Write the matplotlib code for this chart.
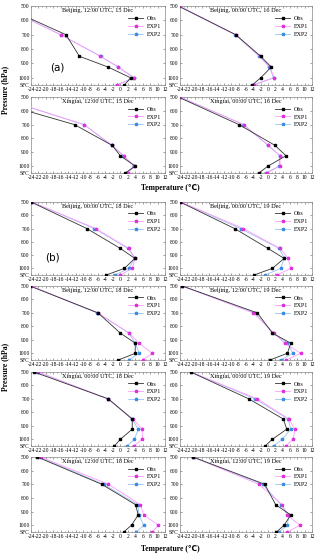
import numpy as np
import matplotlib.pyplot as plt

# pressure levels (1050 is where the surface value is drawn)
levels = [500, 700, 850, 925, 1000, 1050]
ytick_vals = [500, 600, 700, 800, 900, 1000, 1050]
ytick_labels = ['500', '600', '700', '800', '900', '1000', 'SFC']
xticks = np.arange(-24, 13, 2)

titles_a = ['Beijing, 12:00 UTC, 15 Dec', 'Beijing, 00:00 UTC, 16 Dec',
            'Xingtai, 12:00 UTC, 15 Dec', 'Xingtai, 00:00 UTC, 16 Dec']
obs_a = [[-31.7, -14.6, -11.0, -3.3, 2.8, 1.1],
         [-24.5, -8.8, -2.0, 0.9, -2.0, -4.3],
         [-38.0, -12.3, -2.2, 0.0, 4.0, 1.3],
         [-24.5, -7.9, 1.9, 4.9, 0.0, -2.5]]
exp1_a = [[-32.0, -16.0, -5.4, -0.5, 3.8, -0.9],
          [-24.2, -8.8, -2.3, 0.5, 1.7, -3.9],
          [-33.0, -9.7, -2.2, 0.9, 3.8, 2.0],
          [-24.0, -6.6, 0.1, 3.3, 3.3, -0.4]]
exp2_a = [[-32.0, -16.0, -5.3, -0.6, 3.6, -1.0],
          [-24.2, -8.9, -2.4, 0.4, 1.5, -4.2],
          [-33.0, -9.8, -2.3, 0.8, 3.7, 1.8],
          [-24.0, -6.7, 0.0, 3.2, 3.1, -0.6]]

titles_b = ['Beijing, 00:00 UTC, 18 Dec', 'Beijing, 00:00 UTC, 19 Dec',
            'Beijing, 12:00 UTC, 18 Dec', 'Beijing, 12:00 UTC, 19 Dec',
            'Xingtai, 00:00 UTC, 18 Dec', 'Xingtai, 00:00 UTC, 19 Dec',
            'Xingtai, 12:00 UTC, 18 Dec', 'Xingtai, 12:00 UTC, 19 Dec']
obs_b = [[-24.0, -9.0, 0.0, 3.9, 1.1, -3.8],
         [-24.0, -9.1, 0.0, 4.4, 1.2, -3.8],
         [-24.3, -6.0, 0.0, 4.0, 4.0, -0.5],
         [-23.4, -2.9, 1.2, 6.2, 5.3, 0.5],
         [-23.2, -3.2, 3.2, 3.2, 0.0, -1.6],
         [-21.1, -5.2, 4.2, 5.1, 1.2, -0.8],
         [-22.3, -5.0, 4.1, 4.8, 3.0, 0.9],
         [-20.5, -0.9, 2.1, 6.2, 4.4, 2.3]]
exp1_b = [[-23.8, -6.6, 2.3, 4.0, 3.2, 0.0],
          [-23.8, -6.7, 3.3, 5.5, 6.2, 2.4],
          [-24.0, -6.0, 2.4, 5.0, 8.6, 6.0],
          [-23.4, -4.0, 1.6, 4.5, 8.9, 5.0],
          [-22.0, -3.4, 3.4, 5.9, 5.9, 3.6],
          [-21.0, -2.9, 5.7, 7.3, 6.9, 4.8],
          [-21.4, -3.2, 5.4, 6.3, 10.2, 8.6],
          [-20.5, -2.5, 3.9, 5.1, 8.7, 5.3]]
exp2_b = [[-23.8, -7.0, 2.1, 3.9, 2.3, -1.4],
          [-23.8, -7.5, 3.1, 4.4, 3.5, -0.8],
          [-24.0, -6.2, 2.3, 4.0, 5.1, 2.3],
          [-23.4, -3.6, 1.4, 5.3, 6.8, 3.5],
          [-22.3, -3.3, 3.2, 4.8, 3.8, 1.8],
          [-21.0, -3.5, 5.5, 6.2, 3.9, 1.6],
          [-21.8, -4.5, 4.7, 5.0, 6.3, 4.3],
          [-20.5, -1.5, 3.6, 5.7, 5.3, 3.0]]

W, H = 320, 559
serif = ['Liberation Serif', 'DejaVu Serif']


def rect(x0, x1, y0, y1):
    return [x0 / W, 1 - y1 / H, (x1 - x0) / W, (y1 - y0) / H]


def panel(fig, r, title, obs, e1, e2):
    ax = fig.add_axes(r)
    ax.plot(obs, levels, color='#333333', lw=0.6, marker='s', ms=1.8,
            mfc='black', mec='black', label='Obs', zorder=4)
    ax.plot(e1, levels, color='#ff99ff', lw=0.6, marker='*', ms=2.4,
            mfc='#dd33dd', mec='#dd33dd', label='EXP1', zorder=3)
    ax.plot(e2, levels, color='#99c4f0', lw=0.6, marker='*', ms=2.4,
            mfc='#3a8ee6', mec='#3a8ee6', label='EXP2', zorder=2)
    ax.set_xlim(-24, 12)
    ax.set_ylim(1050, 500)
    ax.set_xticks(xticks)
    ax.set_xticklabels([str(v) for v in xticks], fontsize=4.0, family=serif)
    ax.set_yticks(ytick_vals)
    ax.set_yticklabels(ytick_labels, fontsize=4.0, family=serif)
    ax.set_xticks(np.arange(-24, 13, 1), minor=True)
    ax.tick_params(which='both', direction='in', length=1.5, width=0.4,
                   pad=1, top=True, right=True, colors='#555555',
                   labelcolor='black')
    ax.tick_params(axis='x', pad=1.5)
    ax.tick_params(which='minor', length=0.8)
    for s in ax.spines.values():
        s.set_color('#888888')
        s.set_linewidth(0.5)
    ax.text(0.5, 0.97, title, transform=ax.transAxes, ha='center', va='top',
            fontsize=4.5, family=serif)
    ax.legend(loc='upper right', bbox_to_anchor=(1.0, 0.93), frameon=False,
              prop={'family': serif, 'size': 4.3}, handlelength=2.6,
              labelspacing=0.45, borderpad=0.2, handletextpad=0.5)
    return ax


fig = plt.figure(figsize=(W / 100, H / 100), dpi=100)
fig.patch.set_facecolor('white')

cols = [(31, 165), (180, 312)]
rows_a = [(6, 85), (97, 173)]
rows_b = [(202, 275), (286, 360), (372, 446), (457, 532)]

for i in range(4):
    x0, x1 = cols[i % 2]
    y0, y1 = rows_a[i // 2]
    panel(fig, rect(x0, x1, y0, y1), titles_a[i], obs_a[i], exp1_a[i], exp2_a[i])

for i in range(8):
    x0, x1 = cols[i % 2]
    y0, y1 = rows_b[i // 2]
    panel(fig, rect(x0, x1, y0, y1), titles_b[i], obs_b[i], exp1_b[i], exp2_b[i])

fig.text(57 / W, 1 - 68 / H, '(a)', fontsize=7.5, ha='center', va='center')
fig.text(52 / W, 1 - 258 / H, '(b)', fontsize=7.5, ha='center', va='center')

for yc in (90, 367):
    fig.text(5 / W, 1 - yc / H, 'Pressure (hPa)', rotation=90, ha='center',
             va='center', fontsize=5.5, fontweight='bold', family=serif)
for yc in (188, 549):
    fig.text(170 / W, 1 - yc / H, 'Temperature (\u2103)', ha='center',
             va='center', fontsize=5.5, fontweight='bold',
             family=['Liberation Serif', 'DejaVu Sans'])

fig.savefig('out.png', dpi=100)
